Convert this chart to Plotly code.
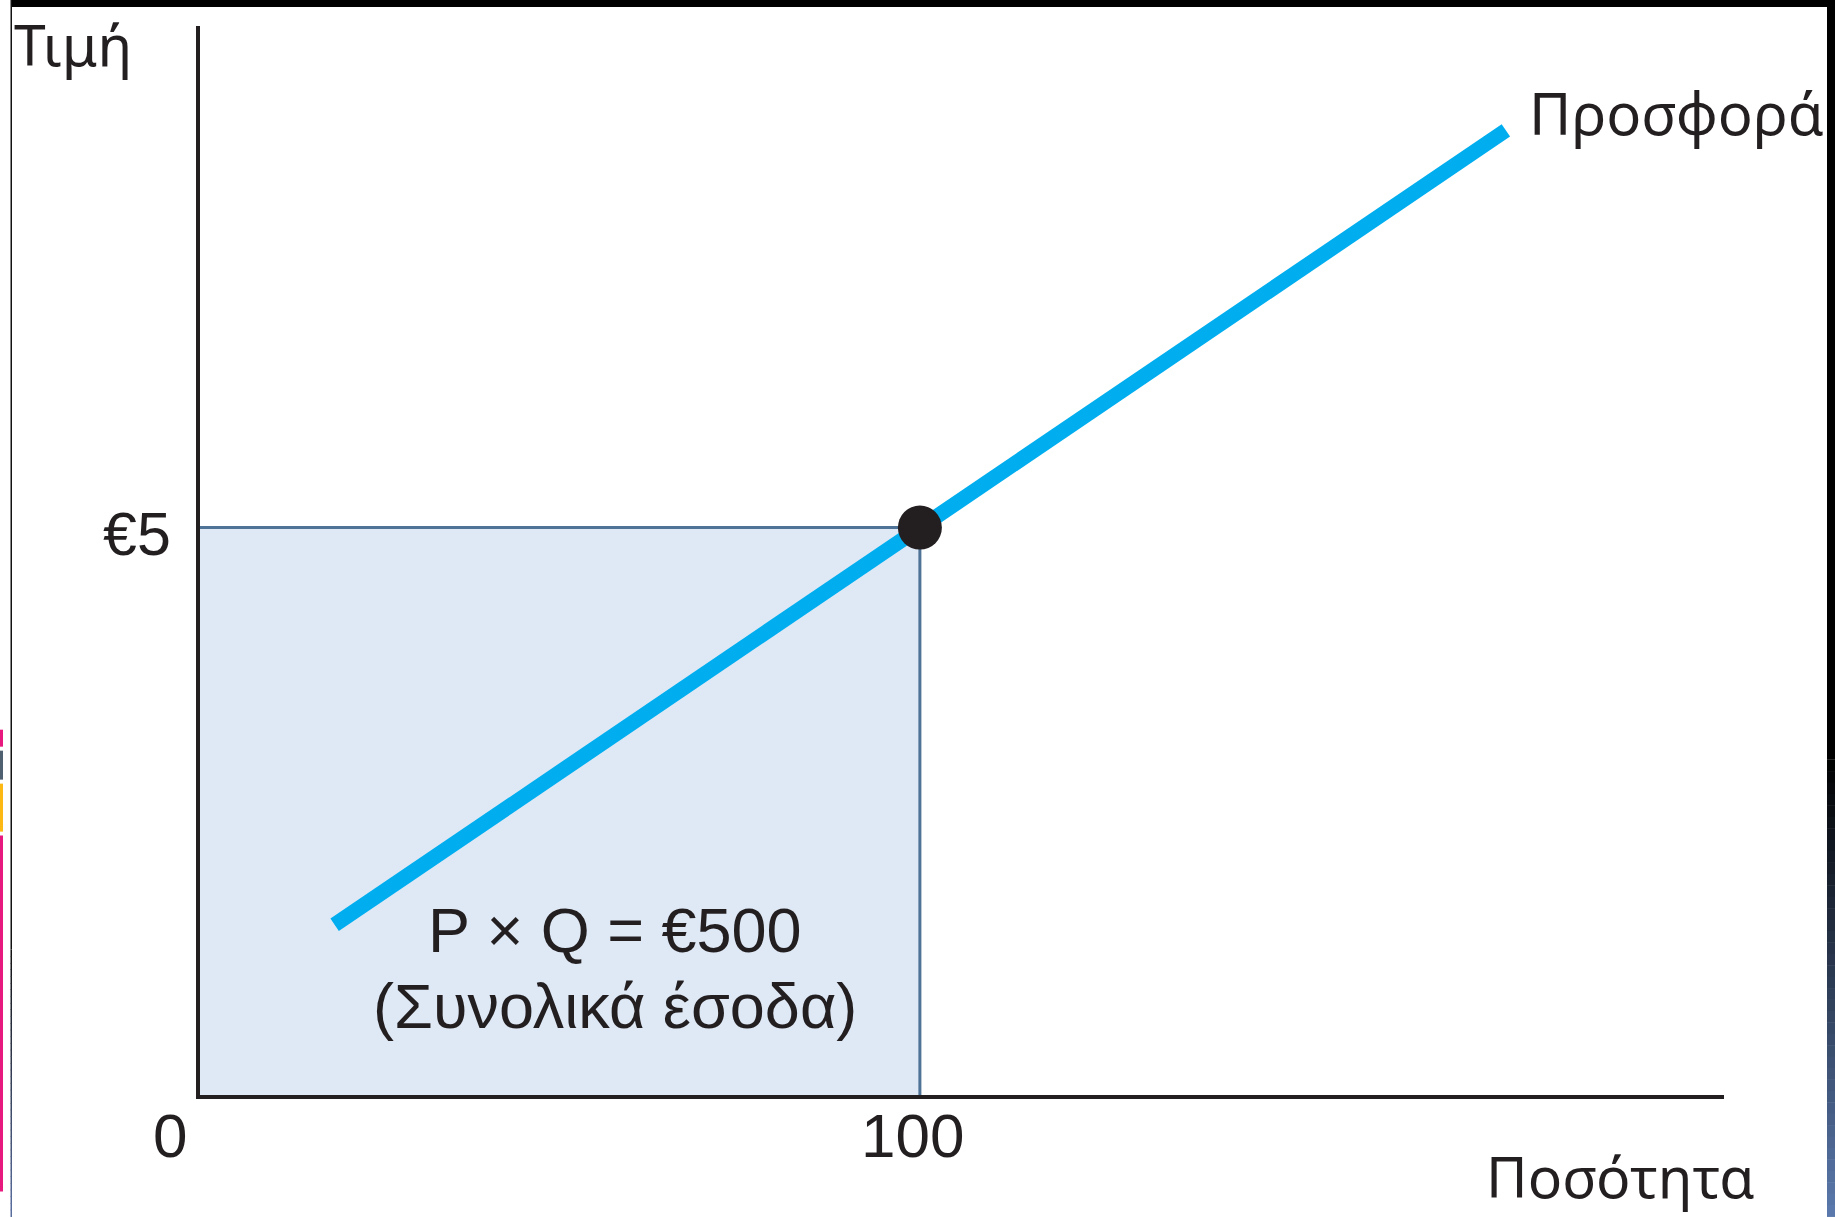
import plotly.graph_objects as go

# ---- data ----
supply_q = [18.7, 181.4]
supply_p = [1.5, 8.5]
eq_q = [100]
eq_p = [5]
rect_q = [0, 100, 100, 0, 0]
rect_p = [0, 0, 5, 5, 0]
edge_q = [0, 100, 100]
edge_p = [5, 5, 0]
x_tick_vals = [0, 100]
x_tick_text = ["0", "100"]
y_tick_vals = [5]
y_tick_text = ["€5"]
x_range = [0, 211.7]
y_range = [0, 9.42]

W, H = 1835, 1217
L, R, T, B = 200, 111, 26, 121.5
PW, PH = W - L - R, H - T - B

def px(x):
    return (x - L) / PW

def py(y):
    return (H - B - y) / PH

NUM_FONT = "Liberation Sans, Arial, sans-serif"
GR_FONT = "Noto Sans, Open Sans, sans-serif"
INK = "#231F20"

fig = go.Figure()

# revenue rectangle
fig.add_trace(go.Scatter(x=rect_q, y=rect_p, mode="lines", fill="toself",
                         fillcolor="#DFE9F6", line=dict(width=0), hoverinfo="skip"))
fig.add_trace(go.Scatter(x=edge_q, y=edge_p, mode="lines",
                         line=dict(color="#4F7396", width=3), hoverinfo="skip"))
# supply curve
fig.add_trace(go.Scatter(x=supply_q, y=supply_p, mode="lines",
                         line=dict(color="#00AEEF", width=15), hoverinfo="skip"))
# equilibrium dot
fig.add_trace(go.Scatter(x=eq_q, y=eq_p, mode="markers",
                         marker=dict(color=INK, size=44, line=dict(width=0)), hoverinfo="skip"))

ann = []
# x tick labels
for v, t in zip(x_tick_vals, x_tick_text):
    ann.append(dict(x=v, y=0, xref="x", yref="y", text=t, showarrow=False,
                    xshift=(-30 if v == 0 else -7), yshift=-40,
                    font=dict(family=NUM_FONT, size=62, color=INK)))
for v, t in zip(y_tick_vals, y_tick_text):
    ann.append(dict(x=0, y=v, xref="x", yref="y", text=t, showarrow=False,
                    xanchor="right", xshift=-27, yshift=-6,
                    font=dict(family=NUM_FONT, size=61, color=INK)))
ann.append(dict(x=57.7, y=1.455, xref="x", yref="y", text="P × Q = €500", showarrow=False,
                font=dict(family=NUM_FONT, size=63, color=INK)))
ann.append(dict(x=57.7, y=0.784, xref="x", yref="y", text="(Συνολικά έσοδα)", showarrow=False,
                font=dict(family=NUM_FONT, size=63, color=INK)))
ann.append(dict(x=px(1527), y=py(113), xref="paper", yref="paper", text="Προσφορά",
                showarrow=False, xanchor="left", yanchor="middle",
                font=dict(family=GR_FONT, size=58, color=INK)))
ann.append(dict(x=px(12), y=py(44), xref="paper", yref="paper", text="Τιμή",
                showarrow=False, xanchor="left", yanchor="middle",
                font=dict(family=GR_FONT, size=57, color=INK)))
ann.append(dict(x=px(1484), y=py(1177), xref="paper", yref="paper", text="Ποσότητα",
                showarrow=False, xanchor="left", yanchor="middle",
                font=dict(family=GR_FONT, size=57, color=INK)))

# frame decorations
shapes = []
def rect(x0, y0, x1, y1, color):
    shapes.append(dict(type="rect", xref="paper", yref="paper", layer="above",
                       x0=px(x0), x1=px(x1), y0=py(y1), y1=py(y0),
                       fillcolor=color, line=dict(width=0)))

def mix(c1, c2, t):
    a = [int(c1[i:i+2], 16) for i in (1, 3, 5)]
    b = [int(c2[i:i+2], 16) for i in (1, 3, 5)]
    return "#%02x%02x%02x" % tuple(round(a[k] + (b[k] - a[k]) * t) for k in range(3))

rect(11, 0, 1835, 7, "#000000")
# right band
rect(1827, 0, 1835, 760, "#000000")
n = 40
for i in range(n):
    y0 = 760 + (H - 760) * i / n
    y1 = 760 + (H - 760) * (i + 1) / n
    rect(1827, y0, 1835, y1 + 0.5, mix("#000000", "#5B7AAD", (i + 0.5) / n))
# left thin line
rect(10.5, 0, 12, 950, "#111111")
for i in range(n):
    y0 = 950 + (H - 950) * i / n
    y1 = 950 + (H - 950) * (i + 1) / n
    rect(10.5, y0, 12, y1 + 0.5, mix("#111111", "#5B6FA0", (i + 0.5) / n))
# left colour tabs
rect(0, 730, 3, 747, "#E8197E")
rect(0, 751, 3, 780, "#4F6070")
rect(0, 784, 3, 832, "#FDB913")
rect(0, 836, 3, 1192, "#E8197E")

fig.update_layout(
    width=W, height=H,
    margin=dict(l=L, r=R, t=T, b=B, pad=0),
    paper_bgcolor="white", plot_bgcolor="white",
    showlegend=False,
    annotations=ann, shapes=shapes,
    xaxis=dict(range=x_range, showgrid=False, zeroline=False, showticklabels=False,
               ticks="", showline=True, linecolor=INK, linewidth=4, fixedrange=True),
    yaxis=dict(range=y_range, showgrid=False, zeroline=False, showticklabels=False,
               ticks="", showline=True, linecolor=INK, linewidth=4, fixedrange=True),
)

fig.write_html("out.html", config={"displayModeBar": False},
               post_script="document.body.style.margin='0';document.body.style.overflow='hidden';")
